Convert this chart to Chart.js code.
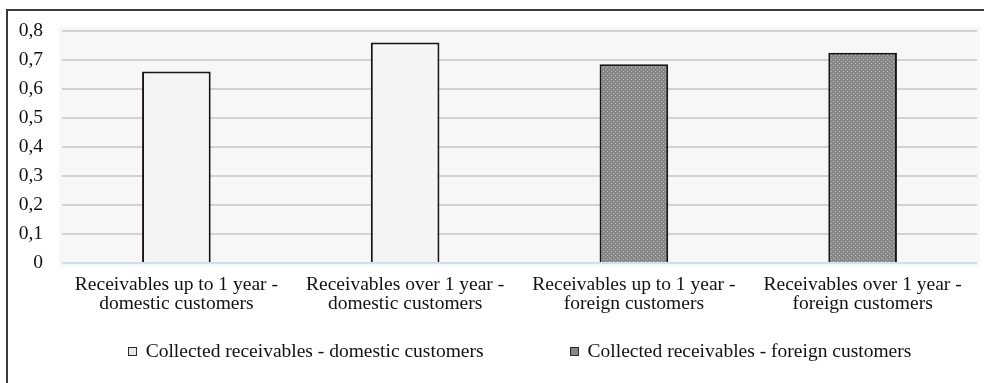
<!DOCTYPE html>
<html>
<head>
<meta charset="utf-8">
<script src="https://cdn.jsdelivr.net/npm/chart.js@4.4.1/dist/chart.umd.min.js"></script>
<style>
  html, body { margin: 0; padding: 0; background: #fff; overflow: hidden; }
  #wrap { position: relative; width: 984px; height: 383px; }
  #frame {
    position: absolute; left: 6px; top: 9px; width: 1000px; height: 400px;
    border-left: 2px solid #3a3a3a; border-top: 2px solid #3a3a3a;
    pointer-events: none;
  }
  #chart { position: absolute; left: 0; top: 0; }
  #legend {
    position: absolute; left: 62px; width: 915px; top: 340px;
    display: flex; justify-content: center; gap: 86px;
    font-family: "Liberation Serif", "Times New Roman", serif; font-size: 19.5px; color: #111;
  }
  .item { display: flex; align-items: center; white-space: nowrap; }
  .box { width: 7px; height: 7px; border: 1.5px solid #2a2a2a; margin-right: 9px; }
</style>
</head>
<body>
<div id="wrap">
  <canvas id="chart" width="984" height="383"></canvas>
  <div id="frame"></div>
  <div id="legend"></div>
</div>
<script>
// data
const categories = [
  ["Receivables up to 1 year -", "domestic customers"],
  ["Receivables over 1 year -", "domestic customers"],
  ["Receivables up to 1 year -", "foreign customers"],
  ["Receivables over 1 year -", "foreign customers"],
];
const domesticValues = [0.66, 0.76, null, null];
const foreignValues = [null, null, 0.685, 0.725];
const seriesNames = [
  "Collected receivables - domestic customers",
  "Collected receivables - foreign customers",
];
const legendColors = ["#e6e6e6", "#878787"];

const serif = "'Liberation Serif', 'Times New Roman', serif";
const fontSize = 19.5;

// dotted grey fill for the foreign bars
function makeDots() {
  const c = document.createElement("canvas");
  c.width = 4;
  c.height = 4;
  const g = c.getContext("2d");
  g.fillStyle = "#878787";
  g.fillRect(0, 0, 4, 4);
  g.fillStyle = "#c9b3ad";
  g.fillRect(1, 1, 1, 1);
  g.fillRect(3, 3, 1, 1);
  return g.createPattern(c, "repeat");
}

// light plot background behind the bars
const plotBackground = {
  id: "plotBackground",
  beforeDraw(chart) {
    const { ctx, chartArea } = chart;
    ctx.save();
    ctx.fillStyle = "#f7f7f7";
    ctx.fillRect(chartArea.left - 3, chartArea.top - 4, chartArea.width + 6, chartArea.height + 8);
    ctx.restore();
  },
};

const ctx = document.getElementById("chart");

const chart = new Chart(ctx, {
  type: "bar",
  data: {
    labels: categories,
    datasets: [
      {
        label: seriesNames[0],
        data: domesticValues,
        backgroundColor: "#f4f4f4",
        borderColor: "#1a1410",
        borderWidth: 2,
        borderSkipped: "bottom",
      },
      {
        label: seriesNames[1],
        data: foreignValues,
        backgroundColor: makeDots(),
        borderColor: "#151515",
        borderWidth: 2,
        borderSkipped: "bottom",
      },
    ],
  },
  options: {
    responsive: false,
    animation: false,
    barPercentage: 0.3,
    categoryPercentage: 1,
    layout: {
      padding: { top: 31, left: 6, right: 7, bottom: 65 },
    },
    scales: {
      x: {
        stacked: true,
        grid: { display: false },
        border: { display: false },
        ticks: {
          color: "#111",
          padding: 4,
          maxRotation: 0,
          autoSkip: false,
          font: { family: serif, size: fontSize, lineHeight: 1.0 },
        },
      },
      y: {
        stacked: true,
        min: 0,
        max: 0.8,
        afterFit: (scale) => {
          scale.width = 56;
        },
        ticks: {
          stepSize: 0.1,
          color: "#111",
          padding: 19,
          font: { family: serif, size: fontSize },
          callback: (v) => (v === 0 ? "0" : v.toFixed(1).replace(".", ",")),
        },
        border: { display: false },
        grid: {
          drawTicks: false,
          lineWidth: 2,
          color: (c) => (c.tick && c.tick.value === 0 ? "#cfe0f1" : "#d2d2d2"),
        },
      },
    },
    plugins: {
      legend: { display: false },
      tooltip: { enabled: false },
    },
  },
  plugins: [plotBackground],
});

// html legend under the chart
const legendEl = document.getElementById("legend");
chart.data.datasets.forEach((ds, i) => {
  const item = document.createElement("div");
  item.className = "item";
  const box = document.createElement("span");
  box.className = "box";
  box.style.background = legendColors[i];
  item.appendChild(box);
  item.appendChild(document.createTextNode(ds.label));
  legendEl.appendChild(item);
});
</script>
</body>
</html>
